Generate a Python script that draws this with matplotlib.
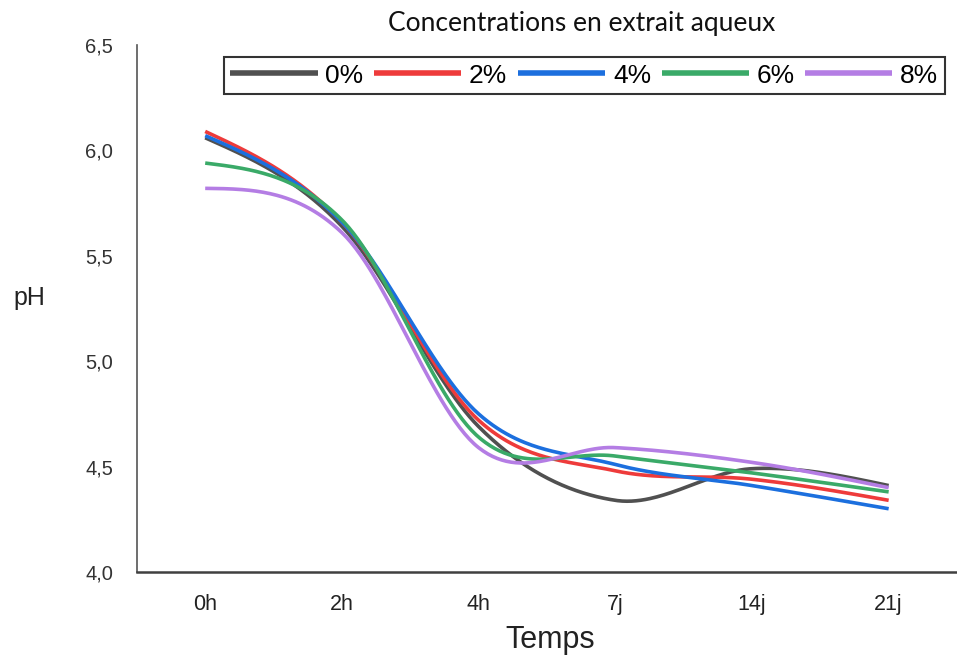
import numpy as np
import matplotlib
matplotlib.use("Agg")
import matplotlib.pyplot as plt
from matplotlib.ticker import FixedLocator, FuncFormatter

# Sampling times and pH readings per aqueous-extract concentration
temps = ["0h", "2h", "4h", "7j", "14j", "21j"]
ph_0 = [6.06, 5.64, 4.69, 4.34, 4.49, 4.41]
ph_2 = [6.09, 5.66, 4.72, 4.48, 4.44, 4.34]
ph_4 = [6.07, 5.66, 4.75, 4.51, 4.41, 4.30]
ph_6 = [5.94, 5.67, 4.64, 4.55, 4.47, 4.38]
ph_8 = [5.82, 5.61, 4.59, 4.59, 4.52, 4.40]
labels = ["0%", "2%", "4%", "6%", "8%"]
colors = ["#505050", "#ee3b3b", "#1c6fde", "#3aaa68", "#b47de4"]

y_ticks = [4.0, 4.5, 5.0, 5.5, 6.0, 6.5]

SANS = ["Liberation Sans", "DejaVu Sans"]


def smooth(xs, ys, n=60):
    """Cubic Bezier smoothing passing through every point."""
    pts = np.column_stack([xs, ys]).astype(float)
    m = len(pts)
    ctrl = []
    for i in range(m - 1):
        p0 = pts[i - 1] if i > 0 else None
        p1, p2 = pts[i], pts[i + 1]
        p3 = pts[i + 2] if i + 2 < m else None
        c1 = p1 + (p2 - p0) / 6.0 if p0 is not None else None
        c2 = p2 - (p3 - p1) / 6.0 if p3 is not None else None
        ctrl.append([p1, c1, c2, p2])
    # end segments: free control point placed halfway to the inner one
    ctrl[0][1] = (ctrl[0][0] + ctrl[0][2]) / 2.0
    ctrl[-1][2] = (ctrl[-1][3] + ctrl[-1][1]) / 2.0
    out = []
    t = np.linspace(0, 1, n)[:, None]
    for i, (a, b, c, d) in enumerate(ctrl):
        seg = ((1 - t) ** 3) * a + 3 * ((1 - t) ** 2) * t * b \
            + 3 * (1 - t) * t ** 2 * c + t ** 3 * d
        out.append(seg if i == 0 else seg[1:])
    arr = np.vstack(out)
    return arr[:, 0], arr[:, 1]


fig = plt.figure(figsize=(9.57, 6.57), dpi=100)
ax = fig.add_axes([0.143, 0.1294, 0.857, 0.8021])

x = np.arange(len(temps))
for series, lab, col in zip([ph_0, ph_2, ph_4, ph_6, ph_8], labels, colors):
    sx, sy = smooth(x, series)
    ax.plot(sx, sy, color=col, lw=2.6, label=lab, solid_capstyle="butt")

ax.set_xlim(-0.5, len(temps) - 0.5)
ax.set_ylim(4.0, 6.5)
ax.yaxis.set_major_locator(FixedLocator(y_ticks))
ax.yaxis.set_major_formatter(FuncFormatter(lambda v, p: f"{v:.1f}".replace(".", ",")))
ax.set_xticks(x)
ax.set_xticklabels(temps, family=SANS, fontsize=15.5, color="#222222")
for t in ax.get_yticklabels():
    t.set_family(SANS)
    t.set_fontsize(14.5)
    t.set_color("#333333")
ax.tick_params(axis="both", length=0)
ax.tick_params(axis="y", pad=17)
ax.tick_params(axis="x", pad=16)

for s in ["top", "right"]:
    ax.spines[s].set_visible(False)
ax.spines["left"].set_color("#555555")
ax.spines["left"].set_linewidth(1.2)
ax.spines["bottom"].set_color("#404040")
ax.spines["bottom"].set_linewidth(1.8)

fig.text(29 / 957, 1 - 298 / 657, "pH", family=SANS, fontsize=18,
         ha="center", va="center", color="#222222")
fig.text(550 / 957, 1 - 640 / 657, "Temps", family=SANS, fontsize=22,
         ha="center", va="center", color="#222222")
fig.text(582 / 957, 1 - 24 / 657, "Concentrations en extrait aqueux",
         family=["Lato", "Liberation Sans", "DejaVu Sans"],
         fontsize=19, ha="center", va="center", color="#111111")

leg = fig.legend(loc="upper right", bbox_to_anchor=(945 / 957, 1 - 57 / 657), ncol=5,
                 prop={"family": SANS, "size": 19},
                 frameon=True, fancybox=False, handlelength=3.3, handletextpad=0.3,
                 columnspacing=0.4, borderpad=0.25, borderaxespad=0.0)
leg.get_frame().set_edgecolor("black")
leg.get_frame().set_linewidth(1.5)
for h in leg.get_lines():
    h.set_linewidth(4)

fig.savefig("out.png", dpi=100)
